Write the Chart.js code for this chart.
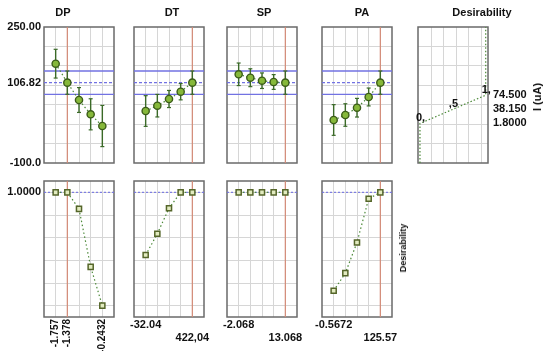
<!DOCTYPE html>
<html>
<head>
<meta charset="utf-8">
<script src="https://cdn.jsdelivr.net/npm/chart.js@4.4.1/dist/chart.umd.min.js"></script>
<style>
  body { margin: 0; background: #fff; }
  #wrap { position: relative; width: 550px; height: 361px; overflow: hidden; background: #fff;
          font-family: "Liberation Sans", Arial, sans-serif; }
  .lbl { position: absolute; font-weight: bold; font-size: 11px; color: #111; white-space: nowrap;
         transform: translate(-50%, -50%); }
  .rot { transform: translate(-50%, -50%) rotate(-90deg); }
</style>
</head>
<body>
<div id="wrap"></div>
<script>
// DATOS DEL PERFIL DE DESEABILIDAD
const factores = ['DP', 'DT', 'SP', 'PA']
const niveles = [1, 2, 3, 4, 5]
const actual = [2, 5, 5, 5]   // nivel actual de cada factor (linea roja)

// respuesta I (uA) predicha y su intervalo
const respDP = [155.6, 106.82, 62.1, 25.3, -4.8]
const respDT = [33.8, 47.5, 64.7, 83.5, 106.82]
const respSP = [128.3, 119.5, 111.8, 108.5, 106.82]
const respPA = [10.7, 23.5, 42.3, 69.9, 106.82]
const errDP = [37, 30, 32, 40, 53]
const errDT = [39.5, 29, 22, 21, 30]
const errSP = [29, 23, 20, 19, 30]
const errPA = [39.5, 29, 24, 23, 30]

// deseabilidad
const desDP = [1, 1, 0.854, 0.342, 0]
const desDT = [0.447, 0.635, 0.86, 1, 1]
const desSP = [1, 1, 1, 1, 1]
const desPA = [0.132, 0.287, 0.558, 0.944, 1]

const prediccion = 106.82
const limInf = 76.8
const limSup = 136.8

// funcion de deseabilidad (panel derecho)
const funcDesX = [0, 0, 0.5, 1, 1]
const funcDesY = [-100, 1.8, 38.15, 74.5, 250]
const funcDesTxt = ['0,', ',5', '1,']
const respTicks = [74.5, 38.15, 1.8]
const respTicksTxt = ['74.500', '38.150', '1.8000']

// etiquetas de ejes
const yTicksResp = [250, 106.82, -100]
const yTicksRespTxt = ['250.00', '106.82', '-100.0']
const yTicksDes = [1]
const yTicksDesTxt = ['1.0000']
const ticksDP = ['-1.757', '-1.378', '', '', '-0.2432']
const ticksDT = ['-32.04', '', '', '', '422,04']
const ticksSP = ['-2.068', '', '', '', '13.068']
const ticksPA = ['-0.5672', '', '', '', '125.57']

const gridResp = [-50, 0, 50, 100, 150, 200]
const gridDes = [0, 0.2, 0.4, 0.6, 0.8, 1]
const gridFuncX = [0.17, 0.36, 0.55, 0.745, 0.94]

const GRID = '#d6d6d6', MARCO = '#6a6a6a', AZUL = '#7272e2', ROJO = '#d48a76'
const VERDE = '#4d8a3a', ERR = '#3b6a28'
const fuente = { family: '"Liberation Sans", Arial, sans-serif', weight: 'bold', size: 11 }
const M = 14   // margen del canvas para que no se corten los textos

const wrap = document.getElementById('wrap')

const marco = {
  id: 'marco',
  beforeDatasetsDraw(chart) {
    const a = chart.chartArea, c = chart.ctx
    c.save()
    c.strokeStyle = MARCO
    c.lineWidth = 1.5
    c.strokeRect(a.left, a.top, a.right - a.left, a.bottom - a.top)
    c.restore()
  }
}

function sinPadding(s) {
  s.paddingLeft = 0
  s.paddingRight = 0
  s.paddingTop = 0
  s.paddingBottom = 0
}

function ejeGrid(pos, min, max, valores) {
  return {
    type: 'linear', position: pos, min: min, max: max,
    border: { display: false },
    grid: { color: GRID, drawTicks: false, lineWidth: 1 },
    ticks: { display: false },
    afterBuildTicks: s => { s.ticks = valores.map(v => ({ value: v })) },
    afterFit: s => { if (pos == 'bottom') s.height = 0; else s.width = 0; sinPadding(s) }
  }
}

function ejeTexto(pos, min, max, valores, textos, tam, extra) {
  return Object.assign({
    type: 'linear', position: pos, min: min, max: max,
    display: true,
    border: { display: false },
    grid: { display: false, drawTicks: false },
    ticks: {
      display: textos.length > 0, autoSkip: false, color: '#111', font: fuente, padding: pos == 'right' ? 5 : 3,
      callback: (v, i) => textos[i]
    },
    afterBuildTicks: s => { s.ticks = valores.map(v => ({ value: v })) },
    afterFit: s => { if (pos == 'bottom') s.height = tam; else s.width = tam; sinPadding(s) }
  }, extra || {})
}

function panel(op) {
  const padR = op.padR || 0
  const W = M + op.padL + op.w + padR + M
  const H = M + op.h + op.padB + M
  const cv = document.createElement('canvas')
  cv.width = W
  cv.height = H
  cv.style.cssText = `position:absolute;left:${op.left - op.padL - M}px;top:${op.top - M}px;width:${W}px;height:${H}px`
  wrap.appendChild(cv)
  const scales = {
    x: ejeGrid('bottom', op.xMin, op.xMax, op.gridX),
    y: ejeGrid('left', op.yMin, op.yMax, op.gridY),
    xl: ejeTexto('bottom', op.xMin, op.xMax, op.xTicks || [], op.xTxt || [], op.padB, op.xExtra),
    yl: ejeTexto('left', op.yMin, op.yMax, op.yTicks || [], op.yTxt || [], op.padL)
  }
  if (op.rTicks) scales.yr = ejeTexto('right', op.yMin, op.yMax, op.rTicks, op.rTxt, padR)
  return new Chart(cv, {
    type: 'line',
    data: { datasets: op.datasets },
    options: {
      responsive: false, animation: false, devicePixelRatio: 1,
      layout: { autoPadding: false, padding: M },
      plugins: { legend: { display: false }, tooltip: { enabled: false } },
      scales: scales
    },
    plugins: [marco].concat(op.plugins || [])
  })
}

const linea = (xs, ys, color, dash, ancho) => ({
  type: 'line', data: xs.map((x, i) => ({ x: x, y: ys[i] })),
  borderColor: color, borderWidth: ancho || 1.2, borderDash: dash || [], pointRadius: 0, fill: false
})

// barras de error: segmentos verticales separados por huecos, con remate
function barrasError(resp, err) {
  const d = []
  niveles.forEach((x, i) => {
    d.push({ x: x, y: resp[i] - err[i] }, { x: x, y: resp[i] + err[i] }, { x: x, y: null })
  })
  return {
    type: 'line', data: d, borderColor: ERR, borderWidth: 1.4, spanGaps: false,
    pointStyle: 'line', pointRadius: 2, pointBorderColor: ERR, pointBorderWidth: 1.2
  }
}

const columnas = [44, 134, 227, 322]
const respuestas = [respDP, respDT, respSP, respPA]
const errores = [errDP, errDT, errSP, errPA]
const deseab = [desDP, desDT, desSP, desPA]
const ticksX = [ticksDP, ticksDT, ticksSP, ticksPA]

factores.forEach((f, k) => {
  const resp = respuestas[k], err = errores[k]
  // fila superior: respuesta
  panel({
    left: columnas[k], top: 27, w: 70, h: 136,
    padL: k == 0 ? 44 : 0, padB: 0,
    xMin: 0, xMax: 6, gridX: niveles,
    yMin: -100, yMax: 250, gridY: gridResp,
    yTicks: k == 0 ? yTicksResp : [], yTxt: k == 0 ? yTicksRespTxt : [],
    datasets: [
      {
        type: 'line', data: niveles.map((x, i) => ({ x: x, y: resp[i] })),
        borderColor: VERDE, borderWidth: 1.2, borderDash: [1.5, 2.5],
        pointRadius: 3.6, pointBackgroundColor: '#86b83a', pointBorderColor: '#3b5c19', pointBorderWidth: 1.4
      },
      barrasError(resp, err),
      linea([actual[k], actual[k]], [-100, 250], ROJO, [], 1.2),
      linea([0, 6], [limSup, limSup], AZUL, [], 1.3),
      linea([0, 6], [prediccion, prediccion], AZUL, [3, 2], 1.1),
      linea([0, 6], [limInf, limInf], AZUL, [], 1.3)
    ]
  })
  // fila inferior: deseabilidad
  const txt = ticksX[k].map((t, i) => k == 0 ? t : (i == 0 ? [t, ''] : [ '', t ]))
  panel({
    left: columnas[k], top: 181, w: 70, h: 136,
    padL: k == 0 ? 44 : 0, padB: k == 0 ? 34 : 28,
    xMin: 0, xMax: 6, gridX: niveles,
    yMin: -0.1, yMax: 1.1, gridY: gridDes,
    yTicks: k == 0 ? yTicksDes : [], yTxt: k == 0 ? yTicksDesTxt : [],
    xTicks: niveles, xTxt: txt,
    xExtra: k == 0
      ? { ticks: { autoSkip: false, minRotation: 90, maxRotation: 90, color: '#111', font: Object.assign({}, fuente, { size: 10 }), padding: 2, callback: (v, i) => txt[i] } }
      : { ticks: { autoSkip: false, maxRotation: 0, color: '#111', font: fuente, padding: 1, callback: (v, i) => txt[i] } },
    datasets: [
      {
        type: 'line', data: niveles.map((x, i) => ({ x: x, y: deseab[k][i] })),
        borderColor: VERDE, borderWidth: 1.2, borderDash: [1.5, 2.5],
        pointStyle: 'rect', pointRadius: 3.6, pointBackgroundColor: '#e2ebc0', pointBorderColor: '#55662a', pointBorderWidth: 1.5
      },
      linea([actual[k], actual[k]], [-0.1, 1.1], ROJO, [], 1.2),
      linea([0, 6], [1, 1], AZUL, [2, 2], 1.1)
    ]
  })
})

// panel de la funcion de deseabilidad
const textosFunc = {
  id: 'textosFunc',
  afterDatasetsDraw(chart) {
    const pts = chart.getDatasetMeta(0).data, c = chart.ctx
    c.save()
    c.font = 'bold 11px "Liberation Sans", Arial, sans-serif'
    c.fillStyle = '#111'
    c.textAlign = 'left'
    c.textBaseline = 'alphabetic'
    funcDesTxt.forEach((t, i) => c.fillText(t, pts[i + 1].x - 4, pts[i + 1].y - 2))
    c.restore()
  }
}
panel({
  left: 418, top: 27, w: 70, h: 136,
  padL: 0, padB: 0, padR: 52,
  xMin: -0.03, xMax: 1.035, gridX: gridFuncX,
  yMin: -100, yMax: 250, gridY: gridResp,
  rTicks: respTicks, rTxt: respTicksTxt,
  datasets: [
    {
      type: 'line', data: funcDesX.map((x, i) => ({ x: x, y: funcDesY[i] })),
      borderColor: VERDE, borderWidth: 1.2, borderDash: [1.5, 2], pointRadius: 0
    }
  ],
  plugins: [textosFunc]
})

// titulos y rotulos
const rotulos = [
  ['DP', 63, 12, ''], ['DT', 172, 12, ''], ['SP', 264, 12, ''], ['PA', 362, 12, ''],
  ['Desirability', 482, 12, ''], ['I (uA)', 537, 97, 'rot'], ['Desirability', 403, 248, 'rot']
]
rotulos.forEach(r => {
  const s = document.createElement('span')
  s.className = 'lbl ' + r[3]
  s.textContent = r[0]
  s.style.left = r[1] + 'px'
  s.style.top = r[2] + 'px'
  if (r[0] == 'Desirability' && r[3]) s.style.fontSize = '9px'
  wrap.appendChild(s)
})
</script>
</body>
</html>
